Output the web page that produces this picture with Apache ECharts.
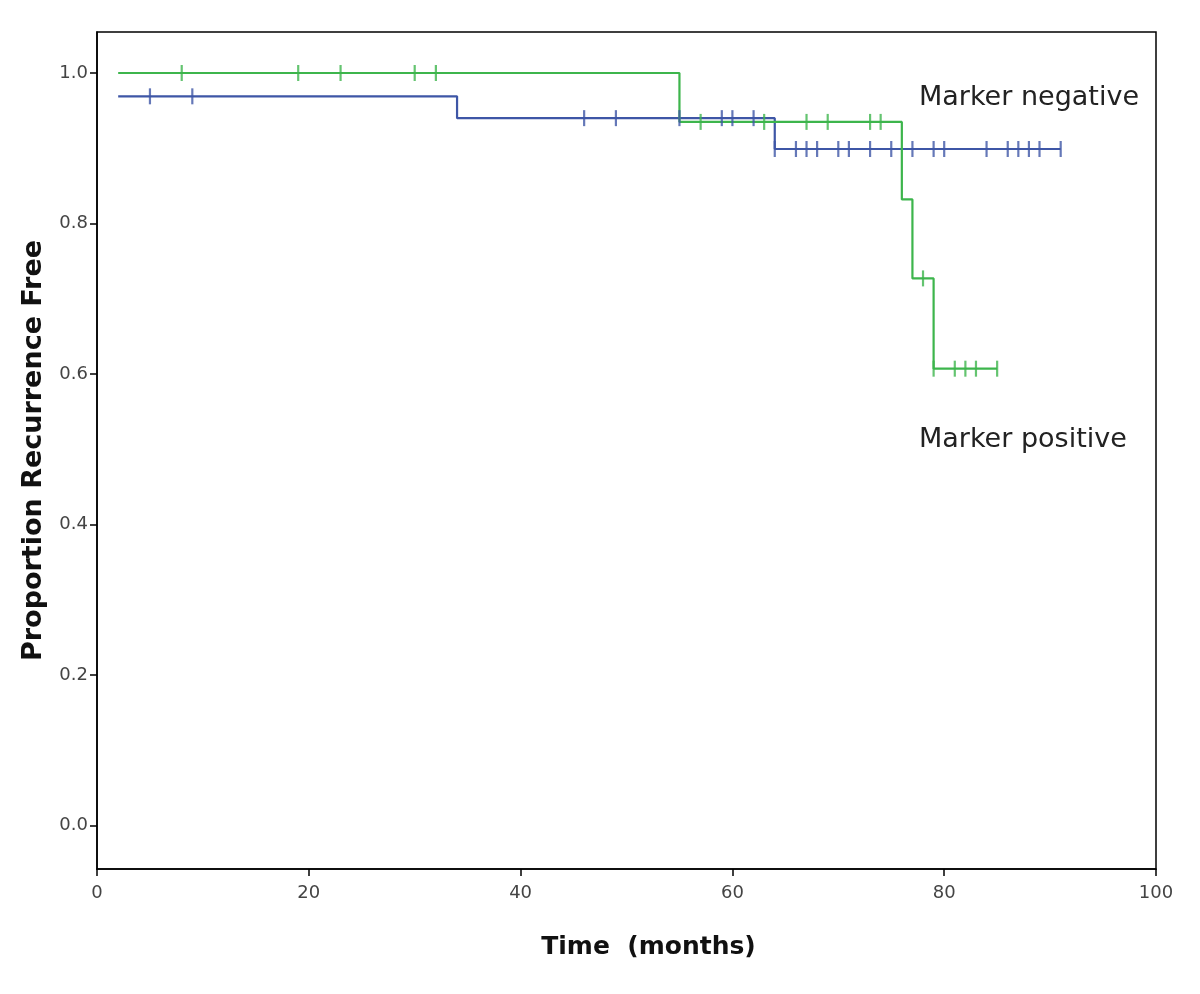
<!DOCTYPE html>
<html>
<head>
<meta charset="utf-8">
<script src="https://cdn.jsdelivr.net/npm/echarts@6/dist/echarts.min.js"></script>
<style>html,body{margin:0;padding:0;background:#fff;}#c{width:1200px;height:994px;}</style>
</head>
<body>
<div id="c"></div>
<script>
// Marker positive (green) Kaplan-Meier steps
const posTimes = [2, 55, 76, 77, 79, 85];
const posSurv = [1.0, 0.935, 0.832, 0.727, 0.607, 0.607];
const posCensor = [8, 19, 23, 30, 32, 57, 63, 67, 69, 73, 74, 78, 79, 81, 82, 83, 85];
// Marker negative (blue)
const negTimes = [2, 34, 64, 91];
const negSurv = [0.969, 0.940, 0.899, 0.899];
const negCensor = [5, 9, 46, 49, 55, 59, 60, 62, 64, 66, 67, 68, 70, 71, 73, 75, 77, 79, 80, 84, 86, 87, 88, 89, 91];
const xTicks = [0, 20, 40, 60, 80, 100];
const yTicks = [0.0, 0.2, 0.4, 0.6, 0.8, 1.0];

function survAt(times, surv, t) {
  let v = surv[0];
  for (let i = 0; i < times.length; i++) if (t >= times[i]) v = surv[i];
  return v;
}
const GREEN = '#3db54c', BLUE = '#3e56a6';
const chart = echarts.init(document.getElementById('c'));
const font = '"DejaVu Sans", Verdana, sans-serif';
chart.setOption({
  animation: false,
  backgroundColor: '#fff',
  grid: { left: 97, right: 44, top: 32, bottom: 125, show: true, borderColor: '#000', borderWidth: 1.5, containLabel: false },
  xAxis: {
    type: 'value', min: 0, max: 100, interval: 20,
    axisLine: { show: true, onZero: false, lineStyle: { color: '#000', width: 1.5 } },
    axisTick: { show: true, length: 7, lineStyle: { color: '#000', width: 1.5 } },
    splitLine: { show: false },
    axisLabel: { color: '#444', fontFamily: font, fontSize: 18, margin: 15 },
    name: 'Time  (months)', nameLocation: 'middle', nameGap: 66,
    nameTextStyle: { fontFamily: font, fontWeight: 'bold', fontSize: 25, color: '#111', padding: [0, 0, 0, 44] }
  },
  yAxis: {
    type: 'value', min: -0.058, max: 1.0545,
    axisLine: { show: true, onZero: false, lineStyle: { color: '#000', width: 1.5 } },
    axisTick: { show: true, length: 7, customValues: yTicks, lineStyle: { color: '#000', width: 1.5 } },
    splitLine: { show: false },
    axisLabel: { color: '#444', fontFamily: font, fontSize: 18, margin: 9, customValues: yTicks, formatter: v => v.toFixed(1) },
    name: 'Proportion Recurrence Free', nameLocation: 'middle', nameGap: 50, nameRotate: 90,
    nameTextStyle: { fontFamily: font, fontWeight: 'bold', fontSize: 27, color: '#111' }
  },
  series: [
    { type: 'line', step: 'end', data: posTimes.map((t, i) => [t, posSurv[i]]), showSymbol: false, symbol: 'none',
      lineStyle: { color: GREEN, width: 2.2 }, z: 3 },
    { type: 'line', step: 'end', data: negTimes.map((t, i) => [t, negSurv[i]]), showSymbol: false, symbol: 'none',
      lineStyle: { color: BLUE, width: 2.2 }, z: 2 },
    { type: 'scatter', data: posCensor.map(t => [t, survAt(posTimes, posSurv, t)]), symbol: 'rect', symbolSize: [2.2, 16],
      itemStyle: { color: GREEN }, z: 4 },
    { type: 'scatter', data: negCensor.map(t => [t, survAt(negTimes, negSurv, t)]), symbol: 'rect', symbolSize: [2.2, 16],
      itemStyle: { color: BLUE }, z: 4 }
  ],
  graphic: [
    { type: 'text', left: 919, top: 84, style: { text: 'Marker negative', font: '27px ' + font, fill: '#222' } },
    { type: 'text', left: 919, top: 426, style: { text: 'Marker positive', font: '27px ' + font, fill: '#222' } }
  ]
});
</script>
</body>
</html>
